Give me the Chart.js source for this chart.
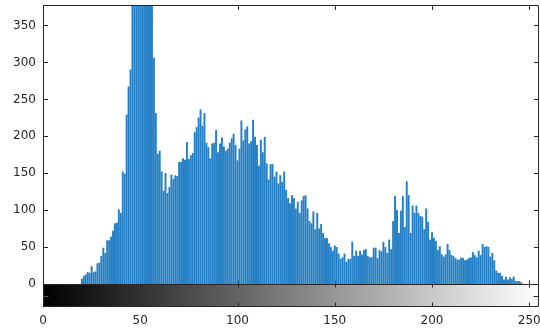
<!DOCTYPE html>
<html>
<head>
<meta charset="utf-8">
<script src="https://cdn.jsdelivr.net/npm/chart.js@4/dist/chart.umd.min.js"></script>
<style>
  html, body { margin: 0; padding: 0; background: #fff; }
</style>
</head>
<body>
<canvas id="hist" width="540" height="333"></canvas>
<script>
// pixel counts for gray levels 0..255 (rows of 10)
const counts = [
  0, 0, 0, 0, 0, 0, 0, 0, 0, 0,
  0, 0, 0, 0, 0, 0, 0, 0, 0, 0,
  7, 11, 13, 16, 15, 24, 16, 17, 28, 29,
  38, 49, 42, 59, 59, 64, 72, 82, 83, 101,
  96, 152, 149, 229, 267, 290, 410, 500, 590, 650,
  700, 690, 640, 580, 500, 440, 390, 306, 231, 176,
  180, 152, 126, 150, 123, 131, 148, 142, 147, 146,
  165, 165, 170, 168, 192, 169, 174, 177, 205, 212,
  225, 236, 214, 231, 191, 185, 170, 190, 191, 208,
  178, 190, 198, 186, 180, 183, 191, 197, 203, 188,
  167, 183, 221, 194, 209, 213, 190, 193, 222, 199,
  188, 160, 195, 178, 199, 163, 141, 162, 162, 145,
  152, 136, 147, 138, 152, 127, 116, 109, 120, 116,
  102, 111, 96, 113, 119, 120, 102, 85, 82, 98,
  74, 96, 75, 81, 69, 62, 62, 55, 50, 45,
  52, 50, 41, 34, 36, 41, 30, 34, 34, 57,
  38, 45, 38, 45, 40, 46, 47, 38, 36, 36,
  49, 49, 35, 46, 44, 57, 50, 42, 60, 47,
  85, 119, 100, 69, 99, 119, 77, 139, 120, 69,
  106, 96, 106, 96, 92, 91, 74, 102, 84, 60,
  70, 62, 58, 46, 51, 40, 37, 40, 54, 46,
  39, 38, 35, 33, 33, 36, 35, 32, 33, 35,
  36, 43, 39, 36, 45, 39, 54, 50, 51, 50,
  37, 42, 32, 18, 15, 15, 11, 6, 10, 6,
  9, 7, 10, 4, 4, 4, 2, 0, 0, 0,
  0, 0, 0, 0, 0, 0
];
const xTicks = [0, 50, 100, 150, 200, 250];
const yTicks = [0, 50, 100, 150, 200, 250, 300, 350];

const xMax = 255;
const yMax = 377.6;
const yMin = -30.7;      // room for the gray bar under the histogram
const cbarMid = -15.35;  // tick on the gray bar

const axisColor = '#262626';
const font = { family: 'DejaVu Sans', size: 12 };

const crisp = v => Math.round(v) + 0.5;

// MATLAB style box, inward ticks and the grayscale bar
const matlabAxes = {
  id: 'matlabAxes',
  beforeDatasetsDraw(chart) {
    const { ctx, chartArea: a, scales: { x, y } } = chart;
    const x0 = x.getPixelForValue(0), x1 = x.getPixelForValue(xMax);
    const yZero = y.getPixelForValue(0), yBot = y.getPixelForValue(yMin);

    const g = ctx.createLinearGradient(x0, 0, x1, 0);
    g.addColorStop(0, '#000');
    g.addColorStop(1, '#fff');
    ctx.save();
    ctx.fillStyle = g;
    ctx.fillRect(x0, Math.round(yZero), x1 - x0, yBot - Math.round(yZero));

    ctx.strokeStyle = axisColor;
    ctx.lineWidth = 1;
    ctx.beginPath();
    yTicks.forEach(v => {
      const py = crisp(y.getPixelForValue(v));
      ctx.moveTo(a.left, py); ctx.lineTo(a.left + 5, py);
      ctx.moveTo(a.right, py); ctx.lineTo(a.right - 5, py);
    });
    xTicks.forEach(v => {
      const px = crisp(x.getPixelForValue(v));
      ctx.moveTo(px, a.top); ctx.lineTo(px, a.top + 5);
      ctx.moveTo(px, yZero); ctx.lineTo(px, yZero - 4);
    });
    ctx.stroke();
    ctx.restore();
  },
  afterDraw(chart) {
    const { ctx, chartArea: a, scales: { x, y } } = chart;
    const yZero = crisp(y.getPixelForValue(0));
    const yBot = crisp(y.getPixelForValue(yMin) - 1);
    const yMid = crisp(y.getPixelForValue(cbarMid));
    const l = crisp(a.left), r = crisp(a.right - 1), t = crisp(a.top);

    ctx.save();
    ctx.strokeStyle = axisColor;
    ctx.lineWidth = 1;
    ctx.beginPath();
    ctx.rect(l, t, r - l, yZero - t);
    ctx.rect(l, yZero, r - l, yBot - yZero);
    xTicks.forEach(v => {
      const px = crisp(x.getPixelForValue(v));
      ctx.moveTo(px, yZero); ctx.lineTo(px, yZero + 3);
      ctx.moveTo(px, yBot); ctx.lineTo(px, yBot - 4);
    });
    ctx.moveTo(r, yMid); ctx.lineTo(r - 5, yMid);
    ctx.stroke();
    ctx.strokeStyle = '#5a5a5a';
    ctx.beginPath();
    ctx.moveTo(l, yMid); ctx.lineTo(l + 5, yMid);
    ctx.stroke();
    ctx.restore();
  }
};

const ctx = document.querySelector('#hist').getContext('2d');
new Chart(ctx, {
  type: 'bar',
  data: {
    datasets: [{
      data: counts.map((c, i) => ({ x: i, y: c })),
      backgroundColor: '#2580c5',
      borderWidth: 0,
      barThickness: 1.3
    }]
  },
  options: {
    responsive: false,
    animation: false,
    layout: { padding: { top: 5, right: 1, left: 0, bottom: 0 } },
    plugins: {
      legend: { display: false },
      tooltip: { enabled: false }
    },
    scales: {
      x: {
        type: 'linear',
        min: 0,
        max: xMax,
        offset: false,
        grid: { display: false, drawTicks: false },
        border: { display: false },
        afterBuildTicks: s => { s.ticks = xTicks.map(v => ({ value: v })); },
        afterFit: s => { s.height = 26; s.paddingLeft = 0; s.paddingRight = 0; },
        ticks: { padding: 7, maxRotation: 0, font: font, color: axisColor }
      },
      y: {
        min: yMin,
        max: yMax,
        grid: { display: false, drawTicks: false },
        border: { display: false },
        afterBuildTicks: s => { s.ticks = yTicks.map(v => ({ value: v })); },
        afterFit: s => { s.width = 43; s.paddingTop = 0; s.paddingBottom = 0; },
        ticks: { padding: 7, font: font, color: axisColor }
      }
    }
  },
  plugins: [matlabAxes]
});
</script>
</body>
</html>
